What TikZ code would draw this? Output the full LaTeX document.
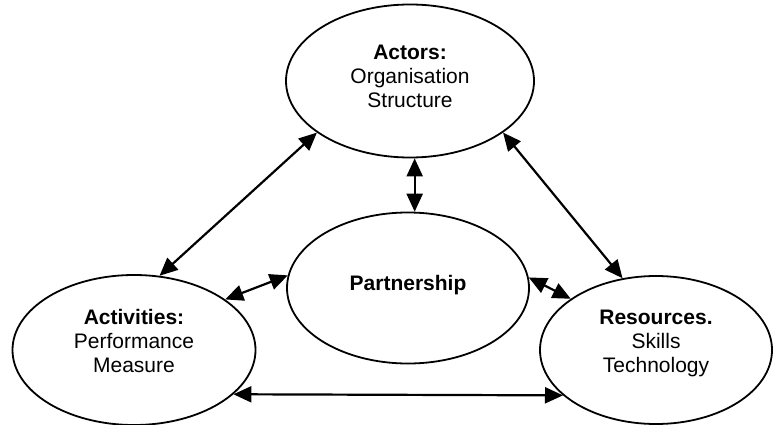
\documentclass[tikz,border=0pt]{standalone}
\usepackage{fontspec}
\setmainfont{Liberation Sans}
\usetikzlibrary{shapes.geometric,arrows.meta}
\newcommand{\lift}[1]{\rule[-#1]{0pt}{#1}}

\begin{document}
\begin{tikzpicture}[x=1pt,y=-1pt,font=\fontsize{21}{24}\selectfont,align=center,
  blob/.style={draw,ellipse,line width=1.8pt,inner sep=0pt},
  tip/.tip={Triangle[length=18pt 0 0,width=16pt 0 0]},
  link/.style={tip-tip,line width=2.2pt}]
  \useasboundingbox (0,0) rectangle (773,425);
  \clip (0,0) rectangle (773,425);
  \node[blob,minimum width=248pt,minimum height=153pt] (actors) at (410,81) {\textbf{Actors:}\\Organisation\\Structure\lift{10pt}};
  \node[blob,minimum width=242pt,minimum height=151pt] (partner) at (408,288) {\textbf{Partnership}\lift{10pt}};
  \node[blob,minimum width=243pt,minimum height=150pt] (activ) at (134,350) {\textbf{Activities:}\\Performance\\Measure\lift{18pt}};
  \node[blob,minimum width=232pt,minimum height=148pt] (resrc) at (656,350) {\textbf{Resources.}\\Skills\\Technology\lift{18pt}};
  % connectors
  \draw[link] (actors.209) -- (activ.71);
  \draw[link] (actors.331) -- (resrc.115);
  \draw[link] (partner.85 |- actors.south) -- (partner.85);
  \draw[link] (activ.29) -- (partner.174);
  \draw[link] (partner.5) -- (resrc.149);
  \draw[link] (activ.336) -- (resrc.206);
\end{tikzpicture}
\end{document}
